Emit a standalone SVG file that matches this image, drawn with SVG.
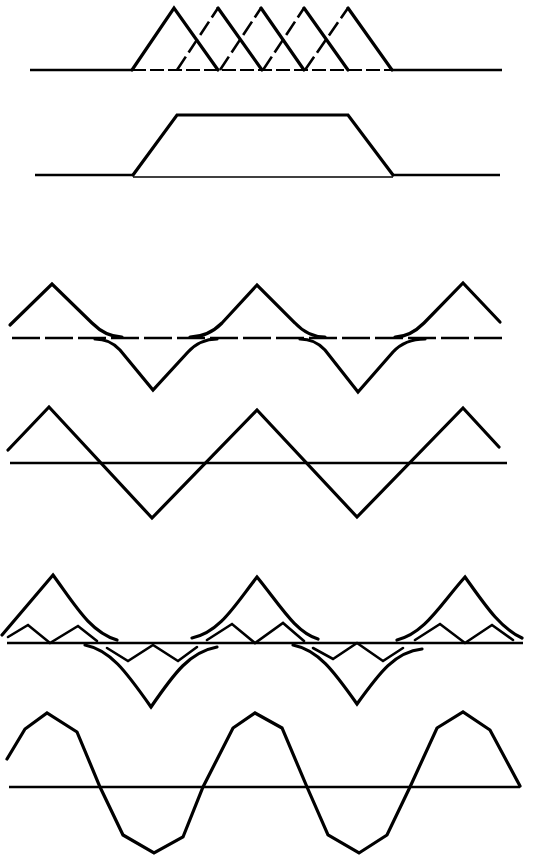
<svg xmlns="http://www.w3.org/2000/svg" width="533" height="857" viewBox="0 0 533 857">
<style>
.w{fill:none;stroke:#000;stroke-width:3.2;stroke-linejoin:miter;stroke-linecap:round}
.b{fill:none;stroke:#000;stroke-width:2.5;stroke-linecap:butt}
.t{fill:none;stroke:#000;stroke-width:1.6}
.d{fill:none;stroke:#000;stroke-width:2;stroke-dasharray:14 4}
.e{fill:none;stroke:#000;stroke-width:2.6;stroke-dasharray:16 5}
.dl{fill:none;stroke:#000;stroke-width:2.5;stroke-dasharray:28 5}
.z{fill:none;stroke:#000;stroke-width:2.6;stroke-linejoin:miter;stroke-linecap:round}
</style>
<rect width="533" height="857" fill="#fff"/>
<g id="panel1">
<path class="b" d="M30,70 L132,70 M392,70 L502,70"/>
<path class="d" d="M132,70 L392,70"/>
<path class="w" d="M132,70 L174,8 L218,70"/>
<path class="e" d="M177,70 L218,8"/>
<path class="w" d="M218,8 L262,70"/>
<path class="e" d="M220,70 L261,8"/>
<path class="w" d="M261,8 L304,70"/>
<path class="e" d="M263,70 L304,8"/>
<path class="w" d="M304,8 L348,70"/>
<path class="e" d="M305,70 L348,8"/>
<path class="w" d="M348,8 L392,70"/>
</g>
<g id="panel2">
<path class="b" d="M35,175 L133,175 M393,175 L500,175"/>
<path class="t" d="M133,177 L393,177"/>
<path class="w" d="M133,175 L177,115 L348,115 L393,175"/>
</g>
<g id="panel3">
<path class="dl" d="M12,338 L503,338"/>
<path class="w" d="M10,325 L52,284 L92,323 Q106,337 122,337"/>
<path class="w" d="M190,337 Q208,337 222,323 L257,285 L295,323 Q308,337 325,337"/>
<path class="w" d="M395,337 Q410,337 424,323 L463,283 L500,322"/>
<path class="w" d="M95,339 Q110,339 120,350 L153,390 L188,352 Q200,339 217,339"/>
<path class="w" d="M300,339 Q315,339 325,350 L358,392 L393,352 Q405,339 425,339"/>
</g>
<g id="panel4">
<path class="b" d="M10,463 L507,463"/>
<path class="w" d="M8,450 L49,407 L152,518 L257,410 L357,517 L463,408 L499,447"/>
</g>
<g id="panel5">
<path class="b" d="M7,643 L523,643"/>
<path class="w" d="M2,635 L53,575 C75,605 90,632 117,640"/>
<path class="w" d="M192,638 C220,632 235,605 257,577 C280,605 295,632 318,639"/>
<path class="w" d="M397,640 C425,633 440,605 465,577 C485,605 500,628 522,638"/>
<path class="w" d="M85,645 C110,650 125,670 151,707 C175,672 190,652 217,647"/>
<path class="w" d="M293,645 C318,650 333,670 357,704 C380,672 395,652 422,649"/>
<path class="z" d="M8,637 L28,625 L50,643 L78,626 L97,641"/>
<path class="z" d="M207,640 L232,624 L255,643 L283,623 L304,641"/>
<path class="z" d="M415,640 L440,624 L465,643 L492,625 L513,640"/>
<path class="z" d="M107,648 L128,661 L153,645 L178,661 L197,647"/>
<path class="z" d="M313,648 L333,659 L357,643 L383,661 L403,648"/>
</g>
<g id="panel6">
<path class="b" d="M9,787 L520,787"/>
<path class="w" d="M7,759 L25,729 L47,713 L77,732 L100,787 L123,835 L154,853 L183,837 L203,787 L233,728 L255,713 L282,728 L307,787 L328,835 L359,853 L387,835 L410,787 L437,728 L463,712 L490,730 L520,786"/>
</g>
</svg>
